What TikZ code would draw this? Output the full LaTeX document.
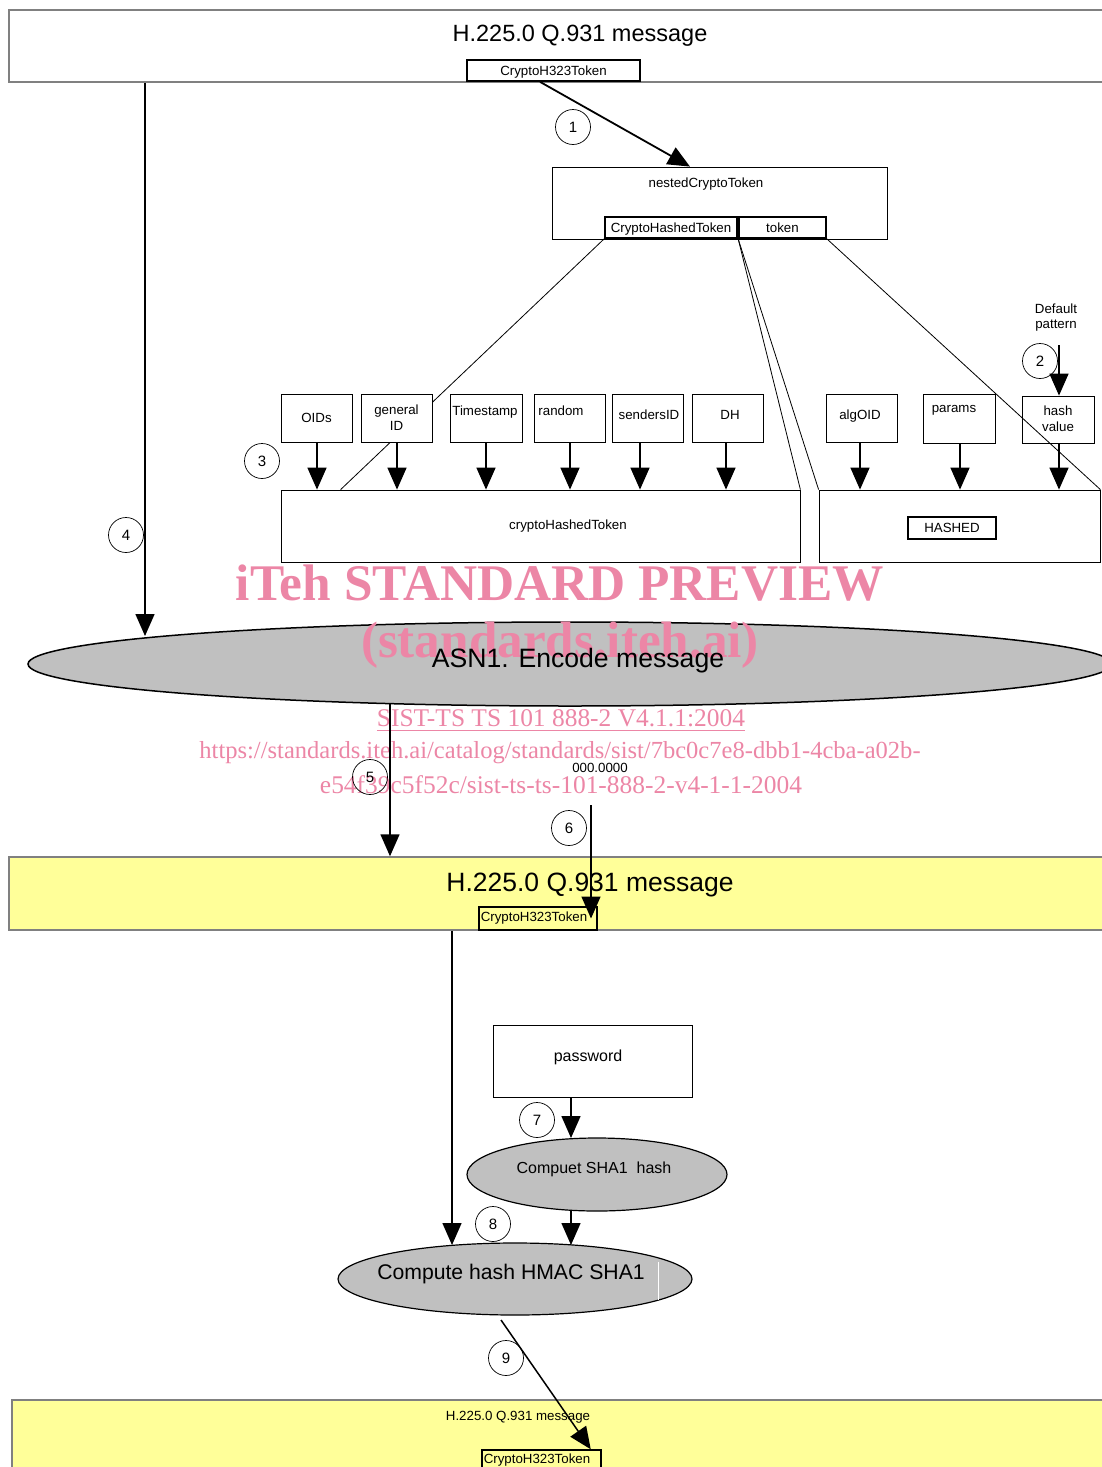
\documentclass[tikz,border=0pt]{standalone}
\usepackage{fontspec}
\usepackage{graphicx}
\setmainfont{Liberation Sans}
\newfontfamily\wmfont{Liberation Serif}
\usetikzlibrary{arrows.meta,shapes.geometric}
\definecolor{procgray}{HTML}{C0C0C0}
\definecolor{msgyellow}{HTML}{FFFF99}
\definecolor{wmpink}{RGB}{236,134,166}
\newcommand\myfs[2]{\fontsize{#1}{#2}\selectfont}
\tikzset{
  box/.style={draw=black, line width=0.8pt, fill=white, inner sep=0pt},
  tbox/.style={draw=black, line width=1.7pt, fill=white, inner sep=0pt, text depth=0pt},
  msg/.style={draw=black!50, line width=1.5pt, inner sep=0pt},
  proc/.style={ellipse, draw=black, line width=1.5pt, fill=procgray, inner sep=0pt},
  num/.style={circle, draw=black, line width=0.7pt, minimum size=35pt, inner sep=0pt, font=\myfs{15}{18}},
  txt/.style={inner sep=0pt, text depth=0pt},
  arr/.style={line width=1.5pt, -{Triangle[length=22pt,width=19pt]}},
  thinl/.style={line width=0.8pt},
  wm/.style={text=wmpink, inner sep=0pt, font=\wmfont},
}
\begin{document}
\begin{tikzpicture}[x=1pt,y=-1pt,font=\myfs{13.3}{16}]
\useasboundingbox (0,0) rectangle (1102,1467);
\clip (0,0) rectangle (1102,1467);

% ---------- top message ----------
\node[msg, fill=white, minimum width=1101pt, minimum height=72pt] (m1) at (559.5,46) {};
\node[txt, font=\myfs{23.5}{28}] (m1t) at (580,33) {H.225.0 Q.931 message};
\node[tbox, minimum width=173pt, minimum height=21pt] (k1) at (553.5,70.5) {CryptoH323Token};

% ---------- nested token ----------
\node[box, minimum width=335pt, minimum height=72pt] (nest) at (719.5,203) {};
\node[txt] (nestt) at (706,183) {nestedCryptoToken};
\node[tbox, minimum width=132pt, minimum height=21pt] (cht) at (671,227.5) {CryptoHashedToken};
\node[tbox, minimum width=87pt, minimum height=21pt] (tok) at (782.5,227.5) {token};

% ---------- big boxes ----------
\node[box, minimum width=519pt, minimum height=72pt] (big) at (540.5,526) {};
\node[txt] (bigt) at (568,525) {cryptoHashedToken};
\node[box, minimum width=281pt, minimum height=72pt] (hsh) at (959.5,526) {};
\node[tbox, minimum width=88pt, minimum height=22pt] (hshi) at (952,528) {HASHED};

% lines from tokens
\draw[thinl] (cht.south west) -- ([xshift=60pt]big.north west);
\draw[thinl] (tok.south west) -- (big.north east);
\draw[thinl] (tok.south west) -- (hsh.north west);

% ---------- row of fields ----------
\node[box, minimum width=71pt, minimum height=48pt] (oid) at (316.5,418) {OIDs};
\node[box, minimum width=71pt, minimum height=48pt, align=center] (gid) at (396.5,418) {general\\ID};
\node[box, minimum width=72pt, minimum height=48pt] (ts) at (486,418) {};
\node[txt] (tst) at (485,411) {Timestamp};
\node[box, minimum width=71pt, minimum height=48pt] (rnd) at (569.5,418) {};
\node[txt] (rndt) at (561,411) {random};
\node[box, minimum width=71pt, minimum height=48pt] (sid) at (647.5,418) {};
\node[txt] (sidt) at (649,415) {sendersID};
\node[box, minimum width=71pt, minimum height=48pt] (dh) at (727.5,418) {};
\node[txt] (dht) at (730,415) {DH};
\node[box, minimum width=71pt, minimum height=48pt] (alg) at (861.5,418) {};
\node[txt] (algt) at (860,415) {algOID};
\node[box, minimum width=72pt, minimum height=49pt] (par) at (959,418.5) {};
\node[txt] (part) at (954,409) {params};
\node[box, minimum width=72pt, minimum height=47pt] (hv) at (1058,419.5) {};
\node[txt, text depth=, align=center] (hvt) at (1058,419) {hash\\value};

\draw[thinl] (tok.south east) -- (hsh.north east);

% field arrows
\draw[arr] ([xshift=0.5pt]oid.south) -- ([xshift=0.5pt]oid.south |- big.north);
\draw[arr] ([xshift=0.5pt]gid.south) -- ([xshift=0.5pt]gid.south |- big.north);
\draw[arr] (ts.south) -- (ts.south |- big.north);
\draw[arr] ([xshift=0.5pt]rnd.south) -- ([xshift=0.5pt]rnd.south |- big.north);
\draw[arr] ([xshift=-7.5pt]sid.south) -- ([xshift=-7.5pt]sid.south |- big.north);
\draw[arr] ([xshift=-1.5pt]dh.south) -- ([xshift=-1.5pt]dh.south |- big.north);
\draw[arr] ([xshift=-1.5pt]alg.south) -- ([xshift=-1.5pt]alg.south |- hsh.north);
\draw[arr] ([xshift=1pt]par.south) -- ([xshift=1pt]par.south |- hsh.north);
\draw[arr] ([xshift=1pt]hv.south) -- ([xshift=1pt]hv.south |- hsh.north);

% default pattern
\node[txt, text depth=, align=center, font=\myfs{13.3}{15}] (dp) at (1056,318) {Default\\pattern};
\coordinate (s2) at (1059,345);
\draw[arr] (s2) -- (s2 |- hv.north);

% arrow 1
\draw[arr, line width=1.8pt] ([xshift=-13.5pt]k1.south) -- ([xshift=-29.5pt]nest.north);

% ---------- ASN1 ellipse ----------
\node[proc, minimum width=1084pt, minimum height=84pt] (asn) at (570,664) {};

% ---------- watermark ----------
\node[wm, font=\wmfont\bfseries] (w1) at (560,583) {\resizebox{648pt}{!}{iTeh STANDARD PREVIEW}};
\node[wm, font=\wmfont\bfseries] (w2) at (560,645) {\resizebox{398pt}{!}{(standards.iteh.ai)}};
\node[wm] (w3) at (561,721) {\resizebox{368pt}{!}{\underline{SIST-TS TS 101 888-2 V4.1.1:2004}}};
\node[wm] (w4) at (560,753) {\resizebox{721pt}{!}{https://standards.iteh.ai/catalog/standards/sist/7bc0c7e8-dbb1-4cba-a02b-}};
\node[wm] (w5) at (561,785) {\resizebox{482pt}{!}{e54f39c5f52c/sist-ts-ts-101-888-2-v4-1-1-2004}};

\node[txt, font=\myfs{26.6}{30}] (asnt) at (578,658) {ASN1. Encode message};

% arrow 4
\coordinate (e4) at (145,636);
\draw[arr] (m1.south -| e4) -- (e4);

% ---------- middle message ----------
\node[msg, fill=msgyellow, minimum width=1101pt, minimum height=73pt] (m2) at (559.5,893.5) {};
\node[txt, font=\myfs{26.5}{30}] (m2t) at (590,882) {H.225.0 Q.931 message};
\node[draw=black, line width=1.5pt, inner sep=0pt, minimum width=118pt, minimum height=23pt] (k2) at (538,918.5) {};
\node[txt] (k2t) at (534,917) {CryptoH323Token};

\coordinate (s5) at (390,703);
\draw[arr] (s5) -- (s5 |- m2.north);
\node[txt] (z) at (600,768) {000.0000};
\coordinate (s6) at (591,805);
\draw[arr] (s6) -- (s6 |- k2.center);

% ---------- password / hashing ----------
\node[box, minimum width=199pt, minimum height=72pt] (pw) at (592.5,1061) {};
\node[txt, font=\myfs{16}{19}] (pwt) at (588,1056) {password};
\node[proc, line width=1.2pt, minimum width=260pt, minimum height=73pt] (sha) at (597,1174.5) {};
\node[txt, font=\myfs{16}{19}] (shat) at (594,1168) {Compuet SHA1\ \ hash};
\node[proc, line width=1.2pt, minimum width=354pt, minimum height=72pt] (hmac) at (515,1279) {};
\node[txt, font=\myfs{21.2}{25}] (hmact) at (511,1272) {Compute hash HMAC SHA1};
\draw[white, line width=1pt] (658,1262) -- (658,1300);

\coordinate (e7) at (571,1138);
\draw[arr] (pw.south -| e7) -- (e7);
\coordinate (s8) at (571,1211);
\coordinate (e8) at (571,1245);
\draw[arr] (s8) -- (e8);
\coordinate (e9) at (452,1245);
\draw[arr] (m2.south -| e9) -- (e9);

% ---------- bottom message ----------
\node[msg, fill=msgyellow, minimum width=1098pt, minimum height=80pt] (m3) at (561,1440) {};
\node[txt] (m3t) at (518,1416) {H.225.0 Q.931 message};
\node[draw=black, line width=1.5pt, inner sep=0pt, minimum width=119pt, minimum height=24pt] (k3) at (541.5,1462) {};
\node[txt] (k3t) at (537,1459) {CryptoH323Token};
\coordinate (s9) at (501,1320);
\draw[arr] (s9) -- ([xshift=-11pt]k3.north east);

% ---------- step numbers ----------
\node[num] (c1) at (573,127) {1};
\node[num] (c2) at (1040,361) {2};
\node[num] (c3) at (262,461) {3};
\node[num] (c4) at (126,535) {4};
\node[num] (c5) at (370,777) {5};
\node[num] (c6) at (569,828) {6};
\node[num] (c7) at (537,1120) {7};
\node[num] (c8) at (493,1224) {8};
\node[num] (c9) at (506,1358) {9};
\end{tikzpicture}
\end{document}
